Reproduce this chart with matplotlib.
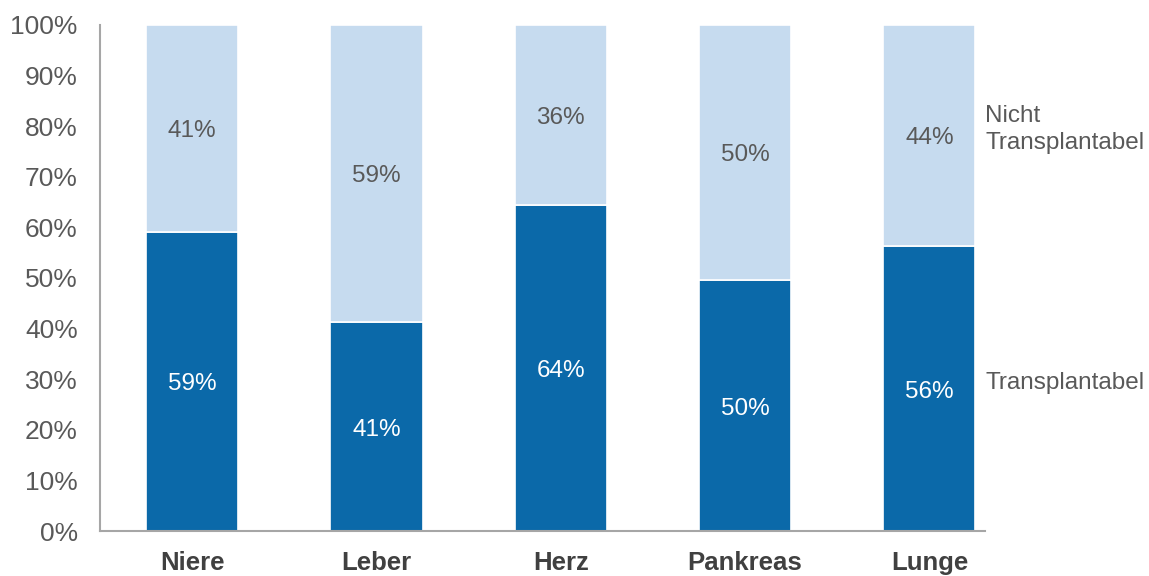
import matplotlib
matplotlib.use("Agg")
import matplotlib.pyplot as plt
from matplotlib.ticker import PercentFormatter

categories = ["Niere", "Leber", "Herz", "Pankreas", "Lunge"]
transplantabel = [59.1, 41.3, 64.4, 49.6, 56.3]
nicht_transplantabel = [100 - v for v in transplantabel]
series_names = ["Transplantabel", "Nicht\nTransplantabel"]

dark = "#0B69A9"
light = "#C6DBEF"
txt = "#595959"

plt.rcParams['font.family'] = ['Liberation Sans', 'DejaVu Sans']

fig = plt.figure(figsize=(11.49, 5.76), dpi=100)
ax = fig.add_axes([0.087, 0.078, 0.770, 0.879])

x = list(range(len(categories)))
w = 0.5
b1 = ax.bar(x, transplantabel, w, color=dark, edgecolor="white", linewidth=1.2)
b2 = ax.bar(x, nicht_transplantabel, w, bottom=transplantabel, color=light,
            edgecolor="white", linewidth=1.2)

for i in x:
    ax.text(i, transplantabel[i] / 2 - 0.6, f"{round(transplantabel[i])}%", ha="center",
            va="center", color="white", fontsize=17.5)
    ax.text(i, transplantabel[i] + nicht_transplantabel[i] / 2 - 0.6,
            f"{round(nicht_transplantabel[i])}%", ha="center", va="center",
            color=txt, fontsize=17.5)

ax.set_ylim(0, 100)
ax.set_xlim(-0.5, 4.3)
ax.set_yticks(range(0, 101, 10))
ax.yaxis.set_major_formatter(PercentFormatter(decimals=0))
ax.set_xticks(x)
ax.set_xticklabels(categories, fontweight="bold", fontsize=18.5, color="#404040")
ax.tick_params(axis="y", length=0, labelsize=19, labelcolor=txt, pad=16)
ax.tick_params(axis="x", length=0, pad=14)
for s in ["top", "right"]:
    ax.spines[s].set_visible(False)
for s in ["left", "bottom"]:
    ax.spines[s].set_color("#A6A6A6")
    ax.spines[s].set_linewidth(1.5)

# series labels at right
last = len(categories) - 1
ax.annotate(series_names[0], xy=(last + 0.25, transplantabel[last] / 2 + 1),
            xytext=(7, 0), textcoords="offset points", ha="left", va="center",
            fontsize=17.5, color=txt)
ax.annotate(series_names[1], xy=(last + 0.25, 79.3),
            xytext=(7, 0), textcoords="offset points", ha="left", va="center",
            fontsize=17.5, color=txt, linespacing=1.3)

fig.savefig("out.png", dpi=100)
